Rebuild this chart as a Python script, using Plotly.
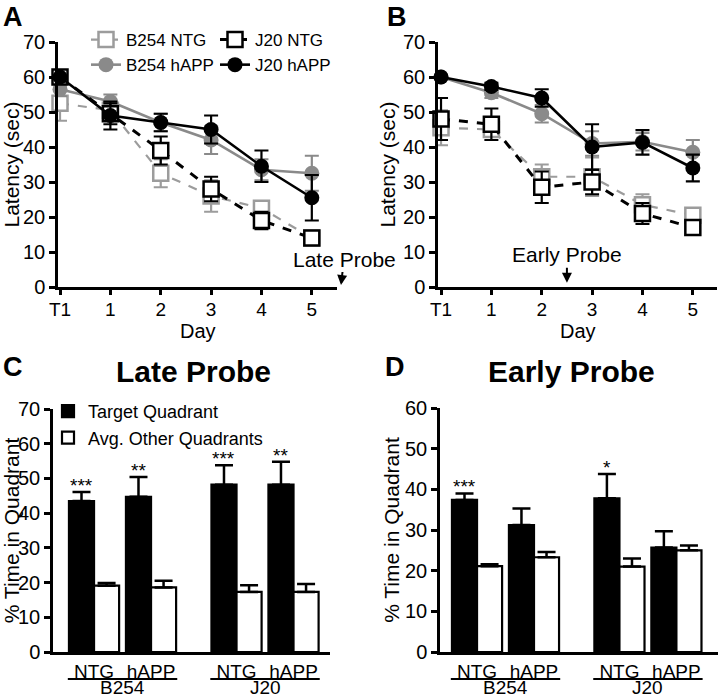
import plotly.graph_objects as go

W, H = 720, 700
FONT = "Liberation Sans, Arial, sans-serif"

# ---------------- data ----------------
days = ["T1", "1", "2", "3", "4", "5"]

# Panel A (late-probe cohort): escape latency (sec), mean and SEM
a_b254_ntg = [52.5, 50.5, 32.5, 26.0, 22.5, 14.0]
a_b254_ntg_err = [5.0, 2.0, 4.0, 4.5, 2.0, 1.0]
a_b254_happ = [56.5, 53.0, 47.0, 42.0, 33.5, 32.5]
a_b254_happ_err = [2.0, 2.0, 2.5, 4.0, 3.0, 5.0]
a_j20_ntg = [60.0, 49.5, 39.0, 28.0, 19.0, 14.0]
a_j20_ntg_err = [0.0, 3.0, 4.0, 3.5, 2.5, 1.0]
a_j20_happ = [60.0, 49.0, 47.0, 45.0, 34.5, 25.5]
a_j20_happ_err = [0.0, 4.0, 2.5, 4.0, 4.5, 6.5]

# Panel B (early-probe cohort)
b_b254_ntg = [45.5, 45.0, 31.5, 31.5, 23.5, 20.5]
b_b254_ntg_err = [5.0, 2.0, 3.5, 5.5, 3.0, 1.5]
b_b254_happ = [60.0, 55.5, 49.5, 41.0, 41.5, 38.5]
b_b254_happ_err = [0.0, 1.5, 2.5, 3.5, 2.5, 3.5]
b_j20_ntg = [48.0, 46.5, 28.5, 30.0, 21.0, 17.0]
b_j20_ntg_err = [6.0, 4.5, 4.5, 3.5, 3.0, 1.0]
b_j20_happ = [60.0, 57.3, 54.0, 40.0, 41.3, 34.0]
b_j20_happ_err = [0.0, 1.0, 2.5, 6.5, 3.5, 3.8]

# Panels C/D: % time in quadrant
lines_ = ["B254", "J20"]
genotypes = ["NTG", "hAPP"]
late_target = [43.5, 44.7, 48.2, 48.2]
late_target_err = [2.6, 5.7, 5.6, 6.6]
late_other = [19.1, 18.6, 17.3, 17.3]
late_other_err = [0.8, 1.9, 1.9, 2.3]
late_stars = ["***", "**", "***", "**"]
early_target = [37.4, 31.2, 37.8, 25.7]
early_target_err = [1.6, 4.1, 6.0, 4.0]
early_other = [21.1, 23.3, 21.0, 25.0]
early_other_err = [0.5, 1.3, 2.0, 1.2]
early_stars = ["***", "", "*", ""]

# ---------------- helpers ----------------
def px(x):
    return x / W


def py(y):
    return 1 - y / H


GRAY_SQ = "#9c9c9c"
GRAY_CI = "#8a8a8a"

series_styles = {
    "B254 NTG": dict(color=GRAY_SQ, dash="dash", width=2.2, symbol="square", fill="white", size=15, mlw=2.5),
    "B254 hAPP": dict(color=GRAY_CI, dash="solid", width=2.6, symbol="circle", fill=GRAY_CI, size=15, mlw=0),
    "J20 NTG": dict(color="black", dash="dash", width=3, symbol="square", fill="white", size=15, mlw=2.5),
    "J20 hAPP": dict(color="black", dash="solid", width=2.6, symbol="circle", fill="black", size=15, mlw=0),
}
legend_of = {"B254 NTG": "legend", "B254 hAPP": "legend", "J20 NTG": "legend2", "J20 hAPP": "legend2"}

fig = go.Figure()


def add_line_panel(xa, ya, data, show_legend):
    for name, (vals, errs) in data.items():
        s = series_styles[name]
        fig.add_trace(go.Scatter(
            x=days, y=vals, name=name, mode="lines+markers",
            xaxis=xa, yaxis=ya, cliponaxis=False,
            line=dict(color=s["color"], dash=s["dash"], width=s["width"]),
            marker=dict(symbol=s["symbol"], size=s["size"], color=s["fill"],
                        line=dict(color=s["color"], width=s["mlw"])),
            error_y=dict(type="data", array=errs, color=s["color"], thickness=2.2, width=7),
            showlegend=show_legend, legend=legend_of[name],
        ))


add_line_panel("x", "y", {
    "B254 NTG": (a_b254_ntg, a_b254_ntg_err),
    "B254 hAPP": (a_b254_happ, a_b254_happ_err),
    "J20 NTG": (a_j20_ntg, a_j20_ntg_err),
    "J20 hAPP": (a_j20_happ, a_j20_happ_err),
}, True)
add_line_panel("x2", "y2", {
    "B254 NTG": (b_b254_ntg, b_b254_ntg_err),
    "B254 hAPP": (b_b254_happ, b_b254_happ_err),
    "J20 NTG": (b_j20_ntg, b_j20_ntg_err),
    "J20 hAPP": (b_j20_happ, b_j20_happ_err),
}, False)

# bar positions: pairs of genotypes, a wider gap between mouse lines
positions = [g * 2.5 + j for g in range(len(lines_)) for j in range(len(genotypes))]
tick_text = [gt for _ in lines_ for gt in genotypes]


def add_bar_panel(xa, ya, target, target_err, other, other_err, show_legend):
    zeros = [0] * len(target)
    fig.add_trace(go.Bar(
        x=positions, y=target, name="Target Quadrant", xaxis=xa, yaxis=ya,
        marker=dict(color="black", line=dict(color="black", width=2.2)),
        error_y=dict(type="data", array=target_err, arrayminus=zeros, symmetric=False,
                     color="black", thickness=2.5, width=9),
        showlegend=show_legend, legend="legend3",
    ))
    fig.add_trace(go.Bar(
        x=positions, y=other, name="Avg. Other Quadrants", xaxis=xa, yaxis=ya,
        marker=dict(color="white", line=dict(color="black", width=2.2)),
        error_y=dict(type="data", array=other_err, arrayminus=zeros, symmetric=False,
                     color="black", thickness=2.5, width=9),
        showlegend=show_legend, legend="legend3",
    ))


add_bar_panel("x3", "y3", late_target, late_target_err, late_other, late_other_err, True)
add_bar_panel("x4", "y4", early_target, early_target_err, early_other, early_other_err, False)

# ---------------- axes ----------------
axis_common = dict(showline=True, linecolor="black", linewidth=2.5, ticks="outside",
                   ticklen=6, tickwidth=2.5, tickcolor="black", showgrid=False,
                   zeroline=False, automargin=False, tickfont=dict(size=20, color="black"),
                   title_font=dict(size=21, color="black"))
xday = dict(ticklen=5, ticklabelstandoff=-2, tickfont=dict(size=19, color="black"))

fig.update_layout(
    xaxis=dict(axis_common, **xday, domain=[px(58), px(337)], anchor="y", type="category",
               range=[-0.04, 5.5]),
    yaxis=dict(axis_common, domain=[py(287), py(42)], anchor="x", range=[0, 70], dtick=10,
               title=dict(text="Latency (sec)", standoff=2)),
    xaxis2=dict(axis_common, **xday, domain=[px(438), px(717)], anchor="y2", type="category",
                range=[-0.06, 5.48]),
    yaxis2=dict(axis_common, domain=[py(287), py(42)], anchor="x2", range=[0, 70], dtick=10,
                title=dict(text="Latency (sec)", standoff=2)),
    xaxis3=dict(axis_common, domain=[px(53), px(330)], anchor="y3", range=[-0.72, 4.14],
                ticks="", tickvals=positions, ticktext=tick_text, tickfont=dict(size=19, color="black")),
    yaxis3=dict(axis_common, domain=[py(652), py(409)], anchor="x3", range=[0, 70], dtick=10,
                title=dict(text="% Time in Quadrant", standoff=0)),
    xaxis4=dict(axis_common, domain=[px(440), px(718)], anchor="y4", range=[-0.65, 4.23],
                ticks="", tickvals=positions, ticktext=tick_text, tickfont=dict(size=19, color="black")),
    yaxis4=dict(axis_common, domain=[py(652), py(408)], anchor="x4", range=[0, 60], dtick=10,
                title=dict(text="% Time in Quadrant", standoff=0)),
)

# ---------------- legends ----------------
leg_common = dict(bgcolor="rgba(0,0,0,0)", borderwidth=0, xanchor="left", yanchor="top",
                  orientation="v", tracegroupgap=0, font=dict(size=17, color="black"))
fig.update_layout(
    legend=dict(leg_common, x=px(86), y=py(22)),
    legend2=dict(leg_common, x=px(215), y=py(22)),
    legend3=dict(leg_common, x=px(48), y=py(393), font=dict(size=18, color="black")),
    barmode="group", bargap=0.12, bargroupgap=0,
)

# ---------------- annotations & shapes ----------------
ann = []
shapes = []
# panel letters
for letter, x, y in [("A", 1, 0), ("B", 385, 0), ("C", 1, 350), ("D", 383, 350)]:
    ann.append(dict(text=f"<b>{letter}</b>", x=px(x), y=py(y), xref="paper", yref="paper",
                    xanchor="left", yanchor="top", showarrow=False, font=dict(size=27, color="black")))
# x-axis titles of the latency panels
for xa in ["x", "x2"]:
    ann.append(dict(text="Day", x=0.5, y=py(331), xref=f"{xa} domain", yref="paper",
                    xanchor="center", yanchor="middle", showarrow=False, font=dict(size=20, color="black")))
# panel titles
for title, x in [("Late Probe", 193), ("Early Probe", 571)]:
    ann.append(dict(text=f"<b>{title}</b>", x=px(x), y=py(371), xref="paper", yref="paper",
                    xanchor="center", yanchor="middle", showarrow=False, font=dict(size=30, color="black")))
# probe arrows
ann.append(dict(text="Late Probe", x=px(341), y=py(285), xref="paper", yref="paper",
                showarrow=True, arrowhead=2, arrowsize=1, arrowwidth=2, arrowcolor="black",
                ax=3, ay=-26, font=dict(size=21, color="black"), standoff=0))
ann.append(dict(text="Early Probe", x=2.5, y=1.2, xref="x2", yref="y2",
                showarrow=True, arrowhead=2, arrowsize=1, arrowwidth=2, arrowcolor="black",
                ax=0, ay=-28, font=dict(size=21, color="black"), standoff=0))

# significance stars and group labels for bar panels
for xa, ya, target, terr, stars in [("x3", "y3", late_target, late_target_err, late_stars),
                                     ("x4", "y4", early_target, early_target_err, early_stars)]:
    for pos, v, e, s in zip(positions, target, terr, stars):
        if s:
            ann.append(dict(text=s, x=pos - 0.22, y=v + e, xref=xa, yref=ya, yanchor="bottom",
                            yshift=-6, showarrow=False, font=dict(size=19, color="black")))
    for g, name in enumerate(lines_):
        p0 = positions[g * len(genotypes)]
        p1 = positions[g * len(genotypes) + len(genotypes) - 1]
        shapes.append(dict(type="line", xref=xa, yref="paper", x0=p0 - 0.46, x1=p1 + 0.46,
                           y0=py(679), y1=py(679), line=dict(color="black", width=2)))
        ann.append(dict(text=name, x=(p0 + p1) / 2, y=py(700), xref=xa, yref="paper",
                        yanchor="bottom", showarrow=False, font=dict(size=19, color="black")))

fig.update_layout(
    annotations=ann, shapes=shapes,
    width=W, height=H, margin=dict(l=0, r=0, t=0, b=0, autoexpand=False),
    paper_bgcolor="white", plot_bgcolor="white",
    font=dict(family=FONT, color="black"),
)

# the page's default 8px body margin would offset the 720x700 figure in the window
fig.write_html("out.html", config={"displayModeBar": False},
               post_script="document.body.style.margin='0';document.body.style.padding='0';"
                           "document.body.style.overflow='hidden';")
